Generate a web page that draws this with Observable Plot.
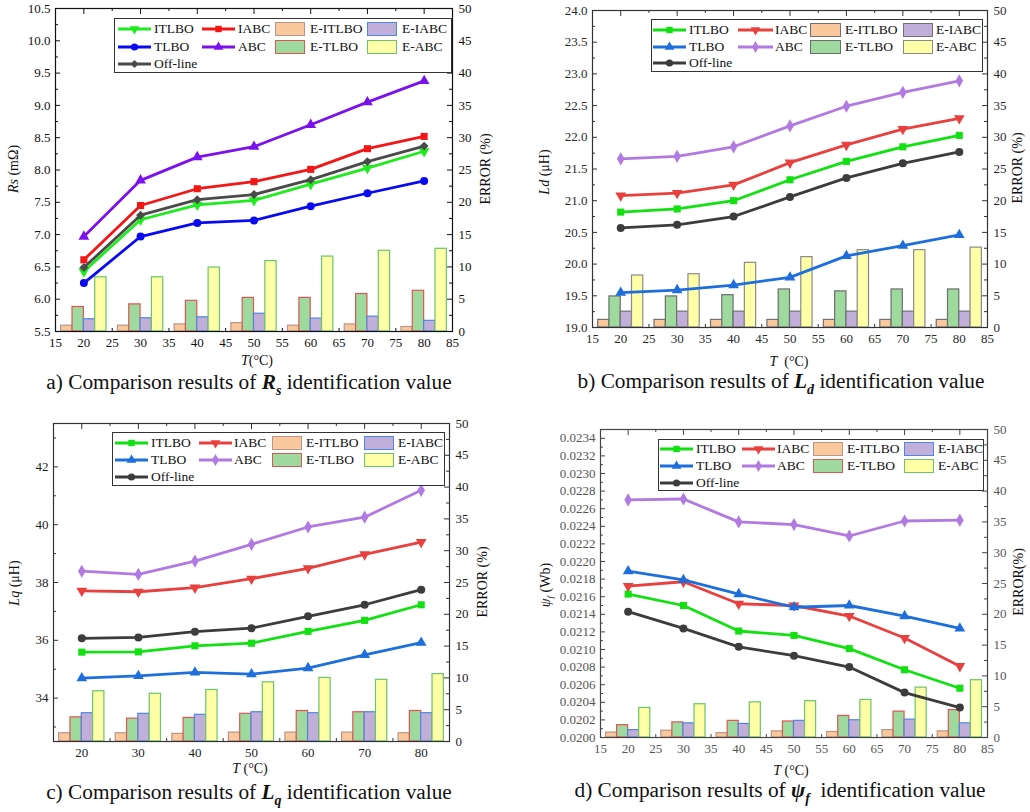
<!DOCTYPE html>
<html><head><meta charset="utf-8">
<script src="https://cdn.jsdelivr.net/npm/d3@7"></script>
<script src="https://cdn.jsdelivr.net/npm/@observablehq/plot@0.6"></script>
<style>
body{margin:0;background:#fff;font-family:"Liberation Serif","Tinos","DejaVu Serif",serif;}
#root{position:relative;width:1030px;height:812px;overflow:hidden;background:#fff;font-family:"Liberation Serif","Tinos","DejaVu Serif",serif;}
#root svg.plotsvg{position:absolute;}
#root svg.plotsvg text{font-family:"Liberation Serif","Tinos","DejaVu Serif",serif;}
.txt{position:absolute;white-space:nowrap;transform:translate(-50%,-50%);line-height:1;color:#111;}
.vt{transform:translate(-50%,-50%) rotate(-90deg);}
.leg{position:absolute;background:#fff;border:1px solid #333;box-sizing:border-box;}
.leg .it{position:absolute;font-size:13.5px;line-height:1;white-space:nowrap;transform:translateY(-50%);color:#111;}
.leg svg{position:absolute;overflow:visible;}
</style></head><body><div id="root"></div>
<script>
const T = [20, 30, 40, 50, 60, 70, 80];
const LINE_NAMES = ["ITLBO", "IABC", "TLBO", "ABC", "Off-line"];
const ERR_NAMES = ["E-ITLBO", "E-TLBO", "E-IABC", "E-ABC"];

// Panel a: Rs (mΩ)
const aITLBO = [6.43, 7.23, 7.46, 7.53, 7.78, 8.03, 8.29];
const aIABC  = [6.61, 7.45, 7.71, 7.82, 8.01, 8.33, 8.52];
const aTLBO  = [6.25, 6.97, 7.18, 7.22, 7.44, 7.64, 7.83];
const aABC   = [6.97, 7.84, 8.20, 8.36, 8.70, 9.05, 9.38];
const aOff   = [6.49, 7.30, 7.54, 7.62, 7.85, 8.13, 8.37];
const aE_ITLBO = [0.9, 0.9, 1.1, 1.3, 0.9, 1.1, 0.7];
const aE_TLBO  = [3.8, 4.2, 4.75, 5.2, 5.2, 5.8, 6.3];
const aE_IABC  = [1.9, 2.05, 2.2, 2.75, 2.0, 2.3, 1.65];
const aE_ABC   = [8.4, 8.4, 9.9, 10.9, 11.6, 12.5, 12.8];

// Panel b: Ld (μH)
const bITLBO = [20.82, 20.87, 21.00, 21.33, 21.62, 21.85, 22.03];
const bIABC  = [21.08, 21.12, 21.25, 21.60, 21.88, 22.13, 22.30];
const bTLBO  = [19.55, 19.59, 19.67, 19.79, 20.13, 20.29, 20.46];
const bABC   = [21.66, 21.70, 21.85, 22.18, 22.49, 22.71, 22.89];
const bOff   = [20.57, 20.62, 20.75, 21.06, 21.36, 21.59, 21.77];
const bE_ITLBO = [1.2, 1.2, 1.2, 1.2, 1.2, 1.2, 1.2];
const bE_TLBO  = [4.9, 4.9, 5.1, 6.0, 5.7, 6.0, 6.0];
const bE_IABC  = [2.5, 2.5, 2.5, 2.5, 2.5, 2.5, 2.5];
const bE_ABC   = [8.2, 8.4, 10.2, 11.1, 12.2, 12.2, 12.6];

// Panel c: Lq (μH)
const cITLBO = [35.59, 35.60, 35.81, 35.90, 36.31, 36.69, 37.23];
const cIABC  = [37.71, 37.68, 37.82, 38.13, 38.49, 38.97, 39.40];
const cTLBO  = [34.69, 34.77, 34.89, 34.83, 35.04, 35.50, 35.92];
const cABC   = [38.39, 38.28, 38.74, 39.32, 39.92, 40.26, 41.19];
const cOff   = [36.07, 36.10, 36.30, 36.42, 36.83, 37.23, 37.75];
const cE_ITLBO = [1.3, 1.3, 1.2, 1.4, 1.4, 1.4, 1.3];
const cE_TLBO  = [3.8, 3.6, 3.7, 4.35, 4.8, 4.6, 4.8];
const cE_IABC  = [4.45, 4.35, 4.2, 4.6, 4.45, 4.6, 4.45];
const cE_ABC   = [7.9, 7.5, 8.1, 9.3, 10.0, 9.7, 10.6];

// Panel d: ψf (Wb)
const dITLBO = [0.02163, 0.02150, 0.02121, 0.02116, 0.02101, 0.02077, 0.02056];
const dIABC  = [0.02172, 0.02177, 0.02152, 0.02150, 0.02138, 0.02113, 0.02081];
const dTLBO  = [0.02189, 0.02179, 0.02163, 0.02148, 0.02150, 0.02138, 0.02124];
const dABC   = [0.02270, 0.02271, 0.02245, 0.02242, 0.02229, 0.02246, 0.02247];
const dOff   = [0.02143, 0.02124, 0.02103, 0.02093, 0.02080, 0.02051, 0.02034];
const dE_ITLBO = [0.8, 1.1, 0.7, 1.0, 0.9, 1.2, 1.0];
const dE_TLBO  = [2.0, 2.45, 2.7, 2.6, 3.5, 4.2, 4.45];
const dE_IABC  = [1.2, 2.3, 2.2, 2.7, 2.8, 2.9, 2.3];
const dE_ABC   = [4.8, 5.4, 5.7, 5.9, 6.1, 8.1, 9.3];

const FONT = '"Liberation Serif","Tinos","DejaVu Serif",serif';

const STY_A = [
  {color: "#1EEB1E", symbol: "triangle", rotate: 180},
  {color: "#F21616", symbol: "square", rotate: 0},
  {color: "#0A0AF0", symbol: "circle", rotate: 0},
  {color: "#7A12EE", symbol: "triangle", rotate: 0},
  {color: "#4A4A4A", symbol: "diamond2", rotate: 0}
];
const STY_B = [
  {color: "#12E012", symbol: "square", rotate: 0},
  {color: "#E8403F", symbol: "triangle", rotate: 180},
  {color: "#1E6FDC", symbol: "triangle", rotate: 0},
  {color: "#B07AE0", symbol: "diamond", rotate: 0},
  {color: "#3C3C3C", symbol: "circle", rotate: 0}
];
const BAR_FILL = ["#F9C89C", "#9ED99E", "#C1AFDA", "#FFFFA8"];
const BAR_STROKE_A = ["#B8968A", "#E05555", "#4F86E0", "#6CC46C"];
const BAR_STROKE_B = ["#707070", "#6E6E6E", "#707070", "#8A8A8A"];
const BAR_OFF = [-4, -2, 0, 2];

const COLS_STD = {line: [[3, 36, 39], [87, 120, 123]], sw: [[160, 190, 195], [252, 282, 287]]};
const COLS_D = {line: [[1, 34, 37], [83, 116, 118]], sw: [[154, 184, 188], [245, 275, 279]]};

const panels = [
  {left: 0, top: 0, w: 515, h: 360, mL: 55, mR: 63, mT: 8, mB: 29,
   yDomain: [5.5, 10.5], yTicks: d3.range(11).map(i => 5.5 + 0.5 * i), yMinor: d3.range(10).map(i => 5.75 + 0.5 * i),
   yFmt: d3.format(".1f"), xTicks: d3.range(15, 86, 5),
   lines: [aITLBO, aIABC, aTLBO, aABC, aOff], err: [aE_ITLBO, aE_TLBO, aE_IABC, aE_ABC],
   sty: STY_A, barStroke: BAR_STROKE_A, axisColor: "#111", tickColor: "#111",
   legend: {x: 114, y: 18, w: 338, h: 55, cols: COLS_STD}},
  {left: 515, top: 0, w: 515, h: 360, mL: 77, mR: 43, mT: 10, mB: 33,
   yDomain: [19, 24], yTicks: d3.range(11).map(i => 19 + 0.5 * i), yMinor: d3.range(10).map(i => 19.25 + 0.5 * i),
   yFmt: d3.format(".1f"), xTicks: d3.range(15, 86, 5),
   lines: [bITLBO, bIABC, bTLBO, bABC, bOff], err: [bE_ITLBO, bE_TLBO, bE_IABC, bE_ABC],
   sty: STY_B, barStroke: BAR_STROKE_B, axisColor: "#333", tickColor: "#2a2a2a",
   legend: {x: 651, y: 19, w: 332, h: 53, cols: {line: [[1, 34, 37], [86, 121, 123]], sw: [[158, 189, 193], [251, 281, 284]]}}},
  {left: 0, top: 405, w: 515, h: 360, mL: 53, mR: 66, mT: 18, mB: 24,
   yDomain: [32.5, 43.5], yTicks: [34, 36, 38, 40, 42], yMinor: [33, 35, 37, 39, 41, 43],
   yFmt: d3.format("d"), xTicks: d3.range(20, 81, 10),
   lines: [cITLBO, cIABC, cTLBO, cABC, cOff], err: [cE_ITLBO, cE_TLBO, cE_IABC, cE_ABC],
   sty: STY_B, barStroke: BAR_STROKE_A, axisColor: "#333", tickColor: "#222",
   legend: {x: 112, y: 432, w: 333, h: 54, cols: {line: [[2, 35, 38], [86, 119, 121]], sw: [[159, 189, 193], [251, 281, 285]]}}},
  {left: 515, top: 405, w: 515, h: 360, mL: 85, mR: 43, mT: 24, mB: 28,
   yDomain: [0.0200, 0.0235], yTicks: d3.range(18).map(i => 0.0200 + 0.0002 * i), yMinor: d3.range(18).map(i => 0.0201 + 0.0002 * i),
   yFmt: d3.format(".4f"), xTicks: d3.range(15, 86, 5),
   lines: [dITLBO, dIABC, dTLBO, dABC, dOff], err: [dE_ITLBO, dE_TLBO, dE_IABC, dE_ABC],
   sty: STY_B, barStroke: BAR_STROKE_A, axisColor: "#444", tickColor: "#555",
   legend: {x: 658, y: 439, w: 326, h: 52, cols: COLS_D}}
];

const root = document.getElementById("root");

function place(svg, p) {
  svg.classList.add("plotsvg");
  svg.style.left = p.left + "px";
  svg.style.top = p.top + "px";
  root.appendChild(svg);
}

function drawPanel(p) {
  const pw = p.w - p.mL - p.mR, ph = p.h - p.mT - p.mB;
  const common = {
    width: p.w, height: p.h, marginLeft: p.mL, marginRight: p.mR, marginTop: p.mT, marginBottom: p.mB,
    style: {background: "transparent", fontFamily: FONT, fontSize: "13px", overflow: "visible"}
  };
  const xMajor = d3.range(20, 81, 10), xMinor = d3.range(15, 86, 10);
  const eMajor = d3.range(0, 51, 5), eMinor = d3.range(0, 10).map(i => 2.5 + 5 * i);
  const barMarks = [
    Plot.tickX(xMajor, {x: d => d, insetTop: ph - 5, stroke: p.axisColor}),
    Plot.tickX(xMinor, {x: d => d, insetTop: ph - 3, stroke: p.axisColor})
  ];
  p.err.forEach((arr, i) => {
    const data = arr.map((v, j) => ({T: T[j], v}));
    barMarks.push(Plot.rectY(data, {
      x1: d => d.T + BAR_OFF[i], x2: d => d.T + BAR_OFF[i] + 2, y: "v",
      fill: BAR_FILL[i], stroke: p.barStroke[i], strokeWidth: 1.2
    }));
  });
  barMarks.push(
    Plot.tickY(eMajor, {y: d => d, insetLeft: pw - 5, stroke: p.axisColor}),
    Plot.tickY(eMinor, {y: d => d, insetLeft: pw - 3, stroke: p.axisColor}),
    Plot.axisY({anchor: "right", ticks: eMajor, tickSize: 0, tickPadding: 6, label: null, fill: p.tickColor, fontFamily: FONT})
  );
  const bars = Plot.plot({...common, x: {domain: [15, 85], axis: null}, y: {domain: [0, 50], axis: null}, marks: barMarks});
  place(bars, p);

  const lineMarks = [
    Plot.frame({stroke: p.axisColor, strokeWidth: 1.2}),
    Plot.tickX(xMajor, {x: d => d, insetBottom: ph - 6, stroke: p.axisColor}),
    Plot.tickX(xMinor, {x: d => d, insetBottom: ph - 3, stroke: p.axisColor}),
    Plot.tickY(p.yTicks, {y: d => d, insetRight: pw - 5, stroke: p.axisColor}),
    Plot.tickY(p.yMinor, {y: d => d, insetRight: pw - 3, stroke: p.axisColor}),
    Plot.axisY({anchor: "left", ticks: p.yTicks, tickFormat: p.yFmt, tickSize: 0, tickPadding: 5, label: null, fill: p.tickColor, fontFamily: FONT}),
    Plot.axisX({anchor: "bottom", ticks: p.xTicks, tickSize: 0, tickPadding: 6, label: null, fill: p.tickColor, fontFamily: FONT})
  ];
  p.lines.forEach((arr, i) => {
    const data = arr.map((v, j) => ({T: T[j], v}));
    const s = p.sty[i];
    lineMarks.push(Plot.line(data, {x: "T", y: "v", stroke: s.color, strokeWidth: 2.8}));
    lineMarks.push(Plot.dot(data, {x: "T", y: "v", symbol: s.symbol, fill: s.color, r: 4, rotate: s.rotate}));
  });
  const lines = Plot.plot({...common, x: {domain: [15, 85], axis: null}, y: {domain: p.yDomain, axis: null}, marks: lineMarks});
  place(lines, p);

  drawLegend(p);
}

const SYM = {triangle: d3.symbolTriangle, square: d3.symbolSquare, circle: d3.symbolCircle, diamond: d3.symbolDiamond, diamond2: d3.symbolDiamond2};

function drawLegend(p) {
  const L = p.legend;
  const box = document.createElement("div");
  box.className = "leg";
  Object.assign(box.style, {left: L.x + "px", top: L.y + "px", width: L.w + "px", height: L.h + "px"});
  const rows = [10, 27.5, 45].map(r => r * L.h / 55);
  const lineCols = L.cols.line;
  const swCols = L.cols.sw;
  const linePos = [[0, 0], [1, 0], [0, 1], [1, 1], [0, 2]];
  LINE_NAMES.forEach((name, i) => {
    const [c, r] = linePos[i];
    const [x0, x1, tx] = lineCols[c];
    const y = rows[r];
    const s = p.sty[i];
    const svg = d3.create("svg").attr("width", x1 - x0).attr("height", 10)
      .style("left", x0 + "px").style("top", (y - 5) + "px");
    svg.append("line").attr("x1", 0).attr("x2", x1 - x0).attr("y1", 5).attr("y2", 5)
      .attr("stroke", s.color).attr("stroke-width", 3);
    svg.append("path").attr("d", d3.symbol(SYM[s.symbol], Math.PI * 3.6 * 3.6)())
      .attr("transform", `translate(${(x1 - x0) / 2},5) rotate(${s.rotate})`).attr("fill", s.color);
    box.appendChild(svg.node());
    const t = document.createElement("div");
    t.className = "it"; t.textContent = name;
    t.style.left = tx + "px"; t.style.top = y + "px";
    box.appendChild(t);
  });
  const swPos = [[0, 0], [0, 1], [1, 0], [1, 1]];
  ERR_NAMES.forEach((name, i) => {
    const [c, r] = swPos[i];
    const [x0, x1, tx] = swCols[c];
    const y = rows[r];
    const sw = document.createElement("div");
    Object.assign(sw.style, {position: "absolute", left: x0 + "px", top: (y - 7) + "px", width: (x1 - x0) + "px", height: "14px",
      background: BAR_FILL[i], border: "1.5px solid " + p.barStroke[i], boxSizing: "border-box"});
    box.appendChild(sw);
    const t = document.createElement("div");
    t.className = "it"; t.textContent = name;
    t.style.left = tx + "px"; t.style.top = y + "px";
    box.appendChild(t);
  });
  root.appendChild(box);
}

panels.forEach(drawPanel);

function addText(html, x, y, size, vertical) {
  const d = document.createElement("div");
  d.className = "txt" + (vertical ? " vt" : "");
  d.innerHTML = html;
  d.style.left = x + "px"; d.style.top = y + "px"; d.style.fontSize = size + "px";
  root.appendChild(d);
}
addText("<i>Rs</i> (mΩ)", 14, 169, 14, true);
addText("ERROR (%)", 486, 169, 14, true);
addText("<i>T</i>(°C)", 257, 361, 14, false);
addText("<i>Ld</i> (μH)", 545, 172, 14, true);
addText("ERROR (%)", 1018, 168, 14, true);
addText("<i>T</i>&nbsp;&nbsp;(°C)", 789, 362, 14, false);
addText("<i>Lq</i> (μH)", 15, 583, 14, true);
addText("ERROR (%)", 483, 582, 14, true);
addText("<i>T</i> (°C)", 250, 769, 14, false);
addText("<i>ψ<sub style='font-size:9px'>f</sub></i> (Wb)", 547, 585, 14, true);
addText("ERROR(%)", 1019, 582, 14, true);
addText("<i>T</i> (°C)", 791, 771, 14, false);
addText("a) Comparison results of <b><i>R<sub style='font-size:14px'>s</sub></i></b> identification value", 249, 385, 21.3, false);
addText("b) Comparison results of <b><i>L<sub style='font-size:14px'>d</sub></i></b> identification value", 781, 384, 21.3, false);
addText("c) Comparison results of <b><i>L<sub style='font-size:14px'>q</sub></i></b> identification value", 249, 795, 21.3, false);
addText("d) Comparison results of <b><i>ψ<sub style='font-size:14px'>f</sub></i></b>&nbsp; identification value", 780, 793, 21.3, false);
</script></body></html>
